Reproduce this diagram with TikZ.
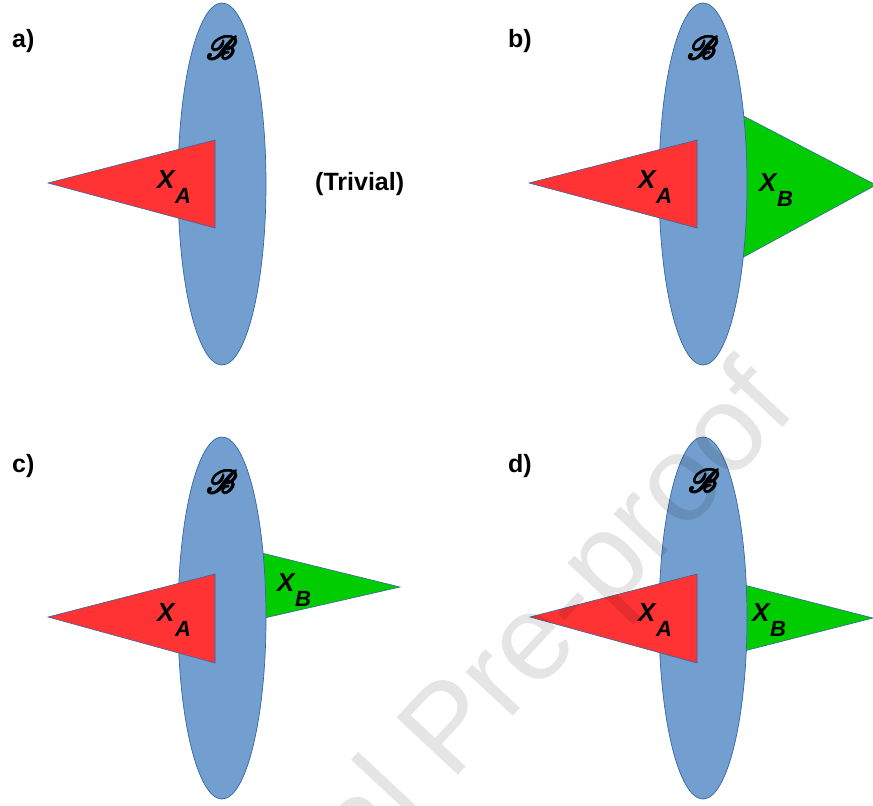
\documentclass[tikz,border=0pt]{standalone}
\usepackage{graphicx}
\usepackage{fontspec}
\setmainfont{Liberation Sans}
\newfontfamily\labfont{Liberation Sans Bold Italic}
\usepackage{mathrsfs}
\usetikzlibrary{shapes.geometric}
\definecolor{bblue}{HTML}{729FCF}
\definecolor{lineblue}{HTML}{3465A4}
\definecolor{tred}{HTML}{FF3333}
\definecolor{tgreen}{HTML}{00CC00}
\tikzset{
  blob/.style={ellipse, fill=bblue, draw=lineblue, line width=0.7pt,
    minimum width=88pt, minimum height=362pt, inner sep=0pt},
  redtri/.style={fill=tred, draw=lineblue, line width=0.6pt},
  greentri/.style={fill=tgreen, draw=lineblue, line width=0.6pt},
  panel/.style={font=\fontsize{25}{25}\selectfont\bfseries, anchor=base west, inner sep=0pt},
  setlabel/.style={font=\fontsize{26}{26}\selectfont\labfont, anchor=base west, inner sep=0pt},
  scriptB/.style={font=\fontsize{24}{24}\selectfont, inner sep=0pt},
  wmark/.style={font=\fontsize{122}{122}\selectfont, text=black, opacity=0.1,
    rotate=47, anchor=base east, inner sep=0pt},
}
\newcommand{\setlab}[1]{X\kern0.5pt\raisebox{-15pt}{\fontsize{22}{22}\selectfont #1}}
\newcommand{\bcopy}[2]{\rlap{\kern#1\raisebox{#2}{$\mathscr{B}$}}}
\newcommand{\scrB}{\scalebox{1.3}{\bcopy{0.6pt}{0pt}\bcopy{-0.6pt}{0pt}\bcopy{0pt}{0.6pt}\bcopy{0pt}{-0.6pt}\bcopy{0.42pt}{0.42pt}\bcopy{-0.42pt}{0.42pt}\bcopy{0.42pt}{-0.42pt}\bcopy{-0.42pt}{-0.42pt}$\mathscr{B}$}}
\begin{document}
\begin{tikzpicture}[x=1pt, y=-1pt]
\useasboundingbox (0,0) rectangle (873,806);
% ---------- panel a ----------
\node[panel] (la) at (12,47) {a)};
\node[blob] (Ea) at (222,184) {};
\draw[redtri] (48,183) -- (215,140) -- (215,228) -- cycle;
\node[scriptB] (Ba) at (222,48) {\scrB};
\node[setlabel] (XAa) at (157,188) {\setlab{A}};
\node[panel] (triv) at (315,190) {(Trivial)};
% ---------- panel b ----------
\node[panel] (lb) at (508,47) {b)};
\draw[greentri] (705,96) -- (876,185) -- (705,278) -- cycle;
\node[blob] (Eb) at (703,184) {};
\draw[redtri] (529,183) -- (697,140) -- (697,228) -- cycle;
\node[scriptB] (Bb) at (703,48) {\scrB};
\node[setlabel] (XAb) at (638,188) {\setlab{A}};
\node[setlabel] (XBb) at (759,191) {\setlab{B}};
% ---------- panel c ----------
\node[panel] (lc) at (12,472) {c)};
\draw[greentri] (225,544) -- (400,587) -- (225,627) -- cycle;
\node[blob] (Ec) at (222,618) {};
\draw[redtri] (48,617) -- (215,574) -- (215,663) -- cycle;
\node[scriptB] (Bc) at (222,482) {\scrB};
\node[setlabel] (XAc) at (157,621) {\setlab{A}};
\node[setlabel] (XBc) at (277,591) {\setlab{B}};
% ---------- panel d ----------
\node[panel] (ld) at (508,472) {d)};
\draw[greentri] (705,575) -- (873,618) -- (705,661) -- cycle;
\node[blob] (Ed) at (703,618) {};
\draw[redtri] (530,617) -- (697,574) -- (697,663) -- cycle;
\node[scriptB] (Bd) at (704,481) {\scrB};
\node[setlabel] (XAd) at (638,621) {\setlab{A}};
\node[setlabel] (XBd) at (752,621) {\setlab{B}};
% ---------- watermark ----------
\node[wmark] (wm) at (799,410) {Journal Pre-proof};
\end{tikzpicture}
\end{document}
